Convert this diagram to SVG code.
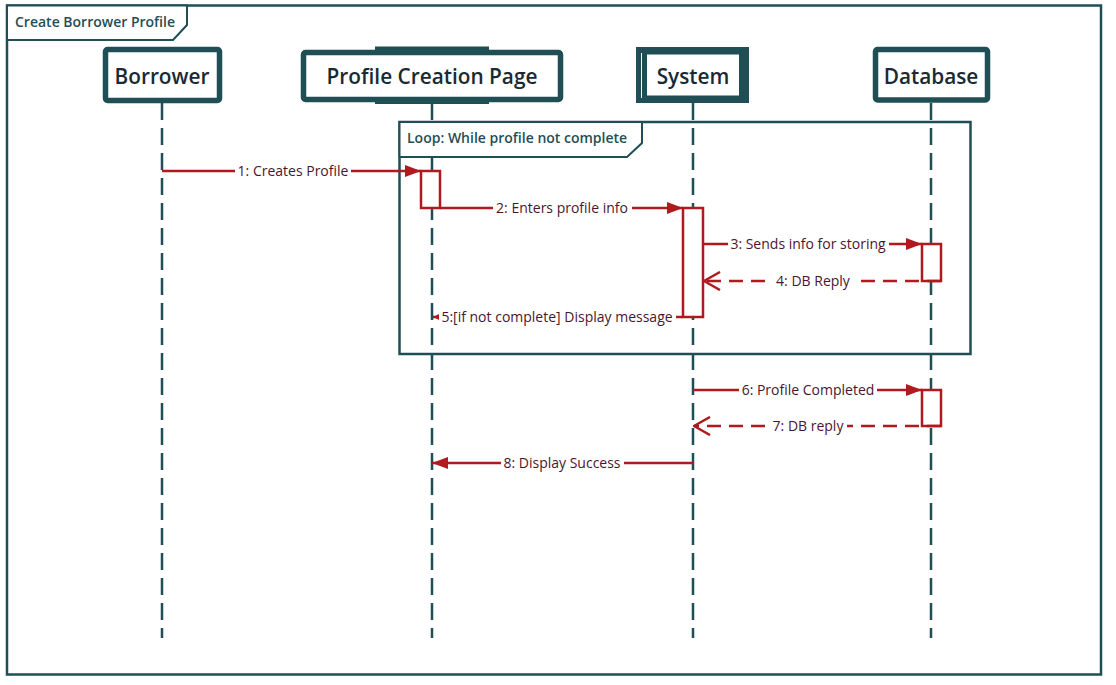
<svg xmlns="http://www.w3.org/2000/svg" width="1116" height="685" viewBox="0 0 1116 685">
<defs>
<style>
.frame{fill:none;stroke:#1F4F55;stroke-width:2.5}
.tab{fill:#fff;stroke:#1F4F55;stroke-width:2}
.ftitle{font-family:"Open Sans",sans-serif;font-weight:600;font-size:14px;fill:#1F4F55}
.head{fill:#fff;stroke:#1F4F55;stroke-width:5.5}
.htext{font-family:"Open Sans",sans-serif;font-weight:600;font-size:20.8px;fill:#1A2A33;text-anchor:middle}
.life{stroke:#1F4F55;stroke-width:2.5;stroke-dasharray:17 8;fill:none}
.msg{stroke:#B0191E;stroke-width:2.5;fill:none}
.dash{stroke:#B0191E;stroke-width:2.5;fill:none;stroke-dasharray:14 8}
.act{fill:#fff;stroke:#B0191E;stroke-width:2.5}
.lbl{font-family:"Open Sans",sans-serif;font-size:14px;fill:#4A1530;text-anchor:middle}
.bg{fill:#fff}
</style>
<marker id="fill" viewBox="0 0 16 12" refX="16" refY="6" markerWidth="16" markerHeight="12" markerUnits="userSpaceOnUse" orient="auto">
<path d="M0,0 L16,6 L0,12 Z" fill="#B0191E"/>
</marker>
<marker id="small" viewBox="0 0 7 7" refX="7" refY="3.5" markerWidth="7" markerHeight="7" markerUnits="userSpaceOnUse" orient="auto">
<path d="M0,0 L7,3.5 L0,7 Z" fill="#B0191E"/>
</marker>
<marker id="open" viewBox="0 0 18 20" refX="17" refY="10" markerWidth="18" markerHeight="20" markerUnits="userSpaceOnUse" orient="auto">
<path d="M1,1 L17,10 L1,19" fill="none" stroke="#B0191E" stroke-width="2.5"/>
</marker>
</defs>
<rect width="1116" height="685" fill="#fff"/>

<g id="outer-frame">
<rect class="frame" x="7" y="5.5" width="1094" height="669"/>
<path class="tab" d="M7,5.5 L187,5.5 L187,25 L173,40 L7,40 Z"/>
<text class="ftitle" x="15" y="27">Create Borrower Profile</text>
</g>

<g id="lifelines">
<line class="life" x1="162" y1="103" x2="162" y2="638"/>
<line class="life" x1="432" y1="103" x2="432" y2="638"/>
<line class="life" x1="693" y1="103" x2="693" y2="638"/>
<line class="life" x1="931" y1="103" x2="931" y2="638"/>
</g>

<g id="borrower">
<rect class="head" x="105.5" y="49.5" width="114" height="51" rx="2"/>
<text class="htext" x="162" y="84">Borrower</text>
</g>

<g id="profile-creation-page">
<rect fill="#1F4F55" x="375" y="46.5" width="114" height="8"/>
<rect fill="#1F4F55" x="375" y="97" width="114" height="7"/>
<rect class="head" x="303.5" y="52.5" width="257" height="47" rx="2"/>
<text class="htext" x="432" y="84">Profile Creation Page</text>
</g>

<g id="system">
<rect fill="#1F4F55" x="636" y="47" width="113" height="56"/>
<rect fill="#fff" x="647" y="54.5" width="92" height="41"/>
<line x1="641.5" y1="53" x2="641.5" y2="98" stroke="#fff" stroke-width="1"/>
<text class="htext" x="693" y="84">System</text>
</g>

<g id="database">
<rect class="head" x="875.5" y="49.5" width="112" height="50.5" rx="2"/>
<text class="htext" x="931" y="84">Database</text>
</g>

<g id="loop-fragment">
<rect class="frame" x="399.5" y="122" width="571" height="232"/>
<path class="tab" d="M399.5,122 L642,122 L642,143 L627,157 L399.5,157 Z"/>
<text class="ftitle" x="407" y="143">Loop: While profile not complete</text>
</g>

<g id="activations">
<rect class="act" x="421" y="171" width="19" height="37"/>
<rect class="act" x="683" y="208" width="20" height="109"/>
<rect class="act" x="922" y="244" width="19" height="37"/>
<rect class="act" x="922" y="390" width="19" height="36"/>
</g>

<g id="connectors">
<line class="msg" x1="162" y1="171" x2="421" y2="171" marker-end="url(#fill)"/>
<rect class="bg" x="235" y="162" width="116" height="18"/>
<text class="lbl" x="293" y="176">1: Creates Profile</text>

<line class="msg" x1="440" y1="208" x2="683" y2="208" marker-end="url(#fill)"/>
<rect class="bg" x="493" y="199" width="139" height="18"/>
<text class="lbl" x="562" y="213">2: Enters profile info</text>

<line class="msg" x1="703" y1="244" x2="922" y2="244" marker-end="url(#fill)"/>
<rect class="bg" x="728" y="235" width="161" height="18"/>
<text class="lbl" x="808" y="249">3: Sends info for storing</text>

<line class="dash" x1="941" y1="281" x2="704" y2="281" marker-end="url(#open)"/>
<rect class="bg" x="773" y="272" width="81" height="18"/>
<text class="lbl" x="813" y="286">4: DB Reply</text>

<line class="msg" x1="683" y1="317" x2="433" y2="317" marker-end="url(#small)"/>
<rect class="bg" x="439" y="308" width="237" height="18"/>
<text class="lbl" x="557" y="322">5:[if not complete] Display message</text>

<line class="msg" x1="693" y1="390" x2="922" y2="390" marker-end="url(#fill)"/>
<rect class="bg" x="739" y="381" width="138" height="18"/>
<text class="lbl" x="808" y="395">6: Profile Completed</text>

<line class="dash" x1="941" y1="426" x2="694" y2="426" marker-end="url(#open)"/>
<rect class="bg" x="770" y="417" width="77" height="18"/>
<text class="lbl" x="808" y="431">7: DB reply</text>

<line class="msg" x1="693" y1="463" x2="432" y2="463" marker-end="url(#fill)"/>
<rect class="bg" x="501" y="454" width="123" height="18"/>
<text class="lbl" x="562" y="468">8: Display Success</text>
</g>
</svg>
